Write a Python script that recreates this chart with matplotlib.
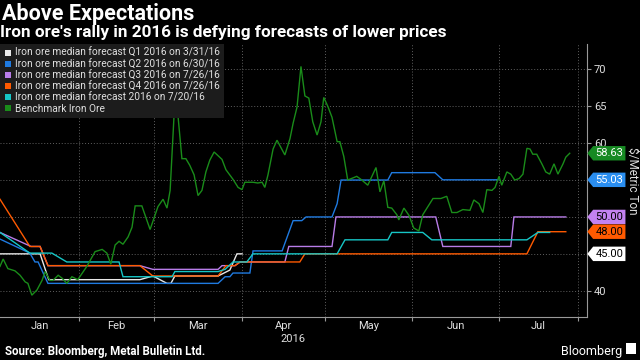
import matplotlib
matplotlib.use("Agg")
import matplotlib.pyplot as plt
from matplotlib.lines import Line2D
from matplotlib.path import Path

# x positions are trading-day offsets from Jan 1 2016 (axis is not calendar-linear)
month_names = ["Jan", "Feb", "Mar", "Apr", "May", "Jun", "Jul"]
month_starts = [0, 20.1, 39.2, 61.6, 82.7, 104.8, 127.0, 147.1]

benchmark_x = [0, 0.8, 2.0, 3.8, 5.1, 6.4, 7.1, 8.1, 9.4, 10.7, 11.5, 12.7, 13.5, 14.8, 15.8,
               17.0, 18.3, 19.8, 22.1, 24.2, 26.0, 27.2, 28.2, 29.3, 30.3, 31.3, 32.6, 33.6,
               34.4, 36.1, 38.2, 40.2, 41.5, 42.5, 43.3, 44.3, 45.3, 46.3, 47.3, 48.3, 49.4,
               50.4, 51.4, 52.4, 53.4, 54.5, 56.5, 57.5, 59.3, 60.6, 61.6, 62.3, 64.4, 65.6,
               66.7, 67.4, 68.2, 69.5, 70.5, 72.5, 73.8, 74.6, 75.6, 76.6, 77.6, 78.6, 79.6,
               80.7, 81.7, 82.4, 83.5, 84.5, 85.8, 86.5, 87.5, 88.5, 90.8, 92.1, 93.6, 95.7,
               96.7, 97.7, 98.7, 99.7, 101.0, 101.5, 102.8, 104.1, 105.3, 106.6, 107.6, 110.2,
               112.2, 113.7, 115.0, 116.3, 117.8, 119.6, 120.6, 121.9, 122.9, 123.9, 125.2,
               126.0, 127.0, 127.7, 129.0, 130.0, 131.0, 132.1, 133.1, 134.1, 134.9, 135.6,
               136.6, 137.9, 138.9, 139.9, 141.0, 142.0, 143.3, 144.0, 145.0]
benchmark = [43.3, 44.3, 43.0, 42.7, 42.1, 41.2, 41.0, 39.4, 40.1, 41.4, 42.6, 41.4, 41.4, 42.1, 41.7,
             41.0, 41.9, 41.5, 43.3, 45.3, 45.6, 45.1, 43.6, 46.2, 46.7, 46.3, 47.3, 48.6,
             51.5, 51.5, 48.3, 51.4, 52.4, 51.2, 53.6, 63.8, 63.7, 57.9, 57.9, 57.0, 55.7,
             52.9, 53.6, 56.1, 57.7, 58.8, 57.8, 56.4, 55.1, 54.0, 53.7, 54.7, 54.7, 54.6,
             54.7, 54.0, 55.7, 59.2, 60.4, 58.4, 60.6, 62.7, 64.9, 70.4, 66.4, 66.1, 62.9,
             61.1, 62.9, 66.2, 64.9, 63.5, 60.2, 60.2, 58.2, 55.0, 55.5, 55.0, 54.3, 56.7,
             53.4, 54.9, 51.3, 51.2, 50.3, 49.6, 51.2, 50.2, 48.5, 48.1, 50.3, 52.5,
             52.5, 52.8, 50.6, 50.6, 51.0, 50.9, 52.3, 51.8, 50.6, 53.7, 53.6,
             54.0, 55.5, 54.3, 56.1, 55.8, 55.0, 55.2, 55.8, 59.3, 59.2, 58.5,
             58.5, 57.2, 56.1, 55.8, 57.2, 55.8, 57.2, 58.1, 58.63]

q1_x = [0, 10.2, 12.4, 35.6, 38.9, 42.5, 43.5, 44.5, 55.5, 58.5, 60.3, 61.6]
q1 = [45.0, 45.0, 41.5, 41.5, 42.0, 41.0, 41.0, 42.0, 42.0, 42.8, 45.0, 45.0]

q2_x = [0, 7.6, 8.9, 9.7, 12.2, 55.5, 57.3, 58.5, 59.3, 63.6, 64.4, 71.8, 74.6, 76.8, 77.9,
        84.5, 85.8, 86.8, 98.7, 99.7, 110.7, 112.7, 126.7]
q2 = [47.0, 45.1, 43.9, 43.9, 41.0, 41.0, 41.9, 41.9, 42.4, 42.4, 45.4, 45.4, 49.5, 49.5, 50.0,
      50.0, 51.8, 55.0, 55.0, 56.0, 56.0, 55.03, 55.03]

q3_x = [0, 7.9, 10.2, 12.2, 35.6, 38.9, 55.5, 56.5, 59.8, 61.1, 72.5, 73.5, 84.5, 85.5, 110.9,
        112.7, 130.0, 130.8, 144.0]
q3 = [47.9, 46.0, 46.0, 43.4, 43.4, 42.9, 42.9, 43.4, 43.4, 43.9, 43.9, 46.0, 46.0, 50.0, 50.0,
      46.0, 46.0, 50.0, 50.0]

q4_x = [0, 7.6, 10.2, 12.2, 35.6, 38.9, 55.5, 57.5, 59.8, 61.1, 76.3, 77.6, 134.1, 136.9, 144.0]
q4 = [52.4, 46.0, 46.0, 43.4, 43.4, 42.0, 42.0, 43.4, 43.4, 43.9, 43.9, 45.0, 45.0, 48.0, 48.0]

fy_x = [0, 7.6, 13.2, 17.0, 30.3, 31.3, 43.8, 44.5, 55.5, 57.3, 59.3, 62.8, 64.4, 85.8, 87.8,
        98.7, 99.7, 107.6, 109.9, 134.1, 136.9, 139.9]
fy = [47.9, 45.1, 45.1, 43.9, 43.9, 41.9, 41.9, 42.6, 42.6, 42.9, 43.9, 43.9, 45.0, 45.0, 46.9,
      46.9, 47.9, 47.9, 46.9, 46.9, 47.9, 47.9]

series = [
    ("Iron ore median forecast Q1 2016 on 3/31/16", q1_x, q1, "#e8e8e8"),
    ("Iron ore median forecast Q2 2016 on 6/30/16", q2_x, q2, "#1f7ae0"),
    ("Iron ore median forecast Q3 2016 on 7/26/16", q3_x, q3, "#b87ce8"),
    ("Iron ore median forecast Q4 2016 on 7/26/16", q4_x, q4, "#ff5a00"),
    ("Iron ore median forecast 2016 on 7/20/16", fy_x, fy, "#16c6c6"),
    ("Benchmark Iron Ore", benchmark_x, benchmark, "#1a8c1a"),
]

tag_values = [58.63, 55.03, 50.00, 48.00, 45.00]
tag_labels = ["58.63", "55.03", "50.00", "48.00", "45.00"]
tag_colors = ["#178a23", "#2a8ef0", "#c282f0", "#ff5a00", "#ffffff"]
tag_text_colors = ["white", "white", "black", "black", "black"]

y_ticks = [40, 45, 50, 55, 60, 65, 70]
# tick labels hidden behind the value tags in the original
y_tick_labels = ["40", "", "", "", "60", "65", "70"]


def tag_box(x0, y0, width, height, mutation_size):
    pad = mutation_size * 0.2
    x0, y0 = x0 - pad, y0 - pad
    x1, y1 = x0 + width + 2 * pad, y0 + height + 2 * pad
    tip = (y1 - y0) * 0.4
    ym = (y0 + y1) / 2
    verts = [(x0 - tip, ym), (x0, y1), (x1, y1), (x1, y0), (x0, y0), (x0 - tip, ym)]
    return Path(verts, closed=True)


plt.rcParams["font.family"] = ["Roboto", "DejaVu Sans"]

fig = plt.figure(figsize=(6.4, 3.6), dpi=100, facecolor="black")
ax = fig.add_axes([0.0, 0.1194, 0.9172, 0.7597], facecolor="black")

for label, xs, ys, color in series:
    ax.plot(xs, ys, color=color, lw=1.0, label=label, solid_joinstyle="miter")

ax.set_xlim(0, 149.4)
ax.set_ylim(36.44, 73.5)

ax.set_xticks(month_starts[1:])
ax.set_xticklabels([])
mids = [(a + b) / 2 for a, b in zip(month_starts[:-1], month_starts[1:])]
ax.set_xticks(mids, minor=True)
ax.set_xticklabels(month_names, minor=True)
ax.tick_params(axis="x", which="major", length=3, color="#999999", direction="out")
ax.tick_params(axis="x", which="minor", length=0, pad=3, labelsize=8, labelcolor="#e0e0e0")

ax.yaxis.tick_right()
ax.set_yticks(y_ticks)
ax.set_yticklabels(y_tick_labels)
ax.tick_params(axis="y", length=3, color="#999999", pad=2, labelsize=8, labelcolor="#e0e0e0")

ax.grid(True, which="major", color="#606060", linestyle=(0, (1, 2)), lw=0.7)
for side in ["left", "top"]:
    ax.spines[side].set_visible(False)
for side in ["right", "bottom"]:
    ax.spines[side].set_color("#999999")
    ax.spines[side].set_linewidth(0.8)

ax.annotate("2016", xy=(mids[3], 0), xycoords=("data", "axes fraction"), xytext=(7, -12.5),
            textcoords="offset points", ha="center", va="top", fontsize=8, color="#e0e0e0")

for value, text, fc, tc in zip(tag_values, tag_labels, tag_colors, tag_text_colors):
    ax.annotate(text, xy=(1, value), xycoords=("axes fraction", "data"), xytext=(6, 0),
                textcoords="offset points", ha="left", va="center", fontsize=8, color=tc,
                bbox=dict(boxstyle=tag_box, fc=fc, ec="none"), annotation_clip=False, zorder=5)

handles = [Line2D([], [], marker="s", linestyle="none", markersize=5, color=c,
                  markeredgewidth=0) for _, _, _, c in series]
leg = ax.legend(handles, [s[0] for s in series], loc="upper left", bbox_to_anchor=(0, 1),
                borderaxespad=0, fontsize=7.3, labelspacing=0.1, handlelength=0.7,
                handletextpad=0.3, borderpad=0.45, frameon=True, fancybox=False,
                facecolor="#1c1c1c", edgecolor="none", framealpha=1)
for t in leg.get_texts():
    t.set_color("#e0e0e0")

fig.text(0.988, 0.497, r"\$/Metric Ton", rotation=270, ha="center", va="center",
         fontsize=8.5, color="#e0e0e0")
fig.text(0.003, 0.945, "Above Expectations", fontsize=15.5, fontweight="bold", color="white",
         va="baseline")
fig.text(0.0, 0.897, "Iron ore's rally in 2016 is defying forecasts of lower prices",
         fontsize=12.3, fontweight="bold", color="white", va="baseline")
fig.text(0.008, 0.015, "Source: Bloomberg, Metal Bulletin Ltd.", fontsize=8.3,
         fontweight="bold", color="white", va="baseline")
fig.text(0.972, 0.015, "Bloomberg", fontsize=9, color="white", ha="right", va="baseline")
fig.patches.append(plt.Rectangle((0.978, 0.018), 0.016, 0.03, transform=fig.transFigure,
                                 fc="white", ec="none"))

fig.savefig("out.png", dpi=100, facecolor="black")
